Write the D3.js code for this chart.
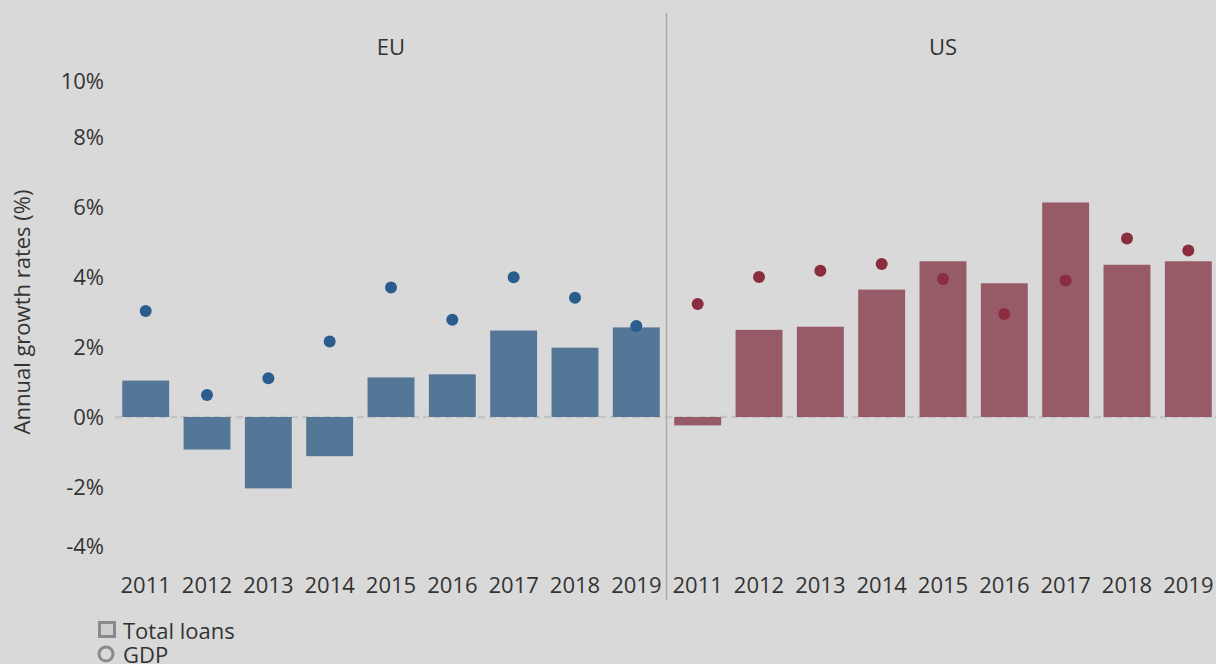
<!DOCTYPE html>
<html lang="en">
<head>
    <title>Loans vs GDP growth</title>
    <style>
        body {
            margin: 0;
            background-color: #d9d9d9;
            font-family: "Open Sans", sans-serif;
        }
        svg {
            display: block;
        }
        svg text {
            fill: #333;
        }
    </style>
    <script src="https://d3js.org/d3.v7.min.js"></script>
</head>
<body>
<svg></svg>
<script>
    const width = 1216;
    const height = 664;

    const regions = ['EU', 'US'];
    const years = ['2011', '2012', '2013', '2014', '2015', '2016', '2017', '2018', '2019'];
    const yTicks = [-4, -2, 0, 2, 4, 6, 8, 10];

    // annual growth rates, %
    const loansEU = [1.04, -0.93, -2.04, -1.12, 1.13, 1.22, 2.47, 1.98, 2.56];
    const gdpEU = [3.03, 0.63, 1.11, 2.16, 3.70, 2.78, 3.99, 3.41, 2.60];
    const loansUS = [-0.24, 2.49, 2.58, 3.64, 4.45, 3.82, 6.13, 4.35, 4.45];
    const gdpUS = [3.23, 4.00, 4.18, 4.37, 3.94, 2.94, 3.90, 5.10, 4.76];

    const loans = { EU: loansEU, US: loansUS };
    const gdp = { EU: gdpEU, US: gdpUS };

    const barColor = { EU: '#557797', US: '#965b66' };
    const dotColor = { EU: '#2b5c8e', US: '#8a2d3f' };

    const svg = d3.select('svg').attr('width', width).attr('height', height);

    const paneTop = 67, paneBottom = 557;
    const y = d3.scaleLinear().domain([-4, 10]).range([paneBottom, paneTop]);

    const panel = d3.scaleBand().domain(regions).range([115, 1219]);

    // zero line
    svg.append('line')
        .attr('x1', 115).attr('x2', width)
        .attr('y1', y(0)).attr('y2', y(0))
        .attr('stroke', '#c4c4c4')
        .attr('stroke-width', 2.5)
        .attr('stroke-dasharray', '7,4');

    // separator between panels
    svg.append('line')
        .attr('x1', panel('US') - 0.5).attr('x2', panel('US') - 0.5)
        .attr('y1', 13).attr('y2', 600)
        .attr('stroke', '#ababab')
        .attr('stroke-width', 1.5);

    // y tick labels (Tableau pulls the edge labels inside the pane)
    svg.append('g')
        .selectAll('text')
        .data(yTicks)
        .enter().append('text')
        .attr('x', 104)
        .attr('y', d => Math.max(81, Math.min(546, y(d))))
        .attr('dy', '0.35em')
        .attr('text-anchor', 'end')
        .style('font-size', '22px')
        .text(d => d + '%');

    svg.append('text')
        .attr('transform', 'translate(30,312) rotate(-90)')
        .attr('text-anchor', 'middle')
        .style('font-size', '22px')
        .text('Annual growth rates (%)');

    regions.forEach(r => {
        const x0 = panel(r);
        const x = d3.scaleBand()
            .domain(years)
            .range([x0, x0 + panel.bandwidth()])
            .paddingInner(0.235)
            .paddingOuter(0.118);

        svg.append('text')
            .attr('x', x0 + panel.bandwidth() / 2)
            .attr('y', 47)
            .attr('dy', '0.35em')
            .attr('text-anchor', 'middle')
            .style('font-size', '22px')
            .text(r);

        const g = svg.append('g');

        g.selectAll('.bar')
            .data(loans[r])
            .enter().append('rect')
            .attr('class', 'bar')
            .attr('x', (d, i) => x(years[i]))
            .attr('width', x.bandwidth())
            .attr('y', d => y(Math.max(0, d)))
            .attr('height', d => Math.abs(y(d) - y(0)))
            .attr('fill', barColor[r]);

        g.selectAll('.dot')
            .data(gdp[r])
            .enter().append('circle')
            .attr('class', 'dot')
            .attr('cx', (d, i) => x(years[i]) + x.bandwidth() / 2)
            .attr('cy', d => y(d))
            .attr('r', 6)
            .attr('fill', dotColor[r]);

        g.selectAll('.year')
            .data(years)
            .enter().append('text')
            .attr('class', 'year')
            .attr('x', d => x(d) + x.bandwidth() / 2)
            .attr('y', 585)
            .attr('dy', '0.35em')
            .attr('text-anchor', 'middle')
            .style('font-size', '22px')
            .text(d => d);
    });

    // legend
    const legend = svg.append('g');
    legend.append('rect')
        .attr('x', 99.5).attr('y', 622.5)
        .attr('width', 15).attr('height', 14)
        .attr('fill', '#cfcfcf')
        .attr('stroke', '#8a8a8a')
        .attr('stroke-width', 3);
    legend.append('text')
        .attr('x', 123).attr('y', 631)
        .attr('dy', '0.35em')
        .style('font-size', '22px')
        .text('Total loans');
    legend.append('circle')
        .attr('cx', 106).attr('cy', 654)
        .attr('r', 7)
        .attr('fill', 'none')
        .attr('stroke', '#8a8a8a')
        .attr('stroke-width', 3);
    legend.append('text')
        .attr('x', 123).attr('y', 655)
        .attr('dy', '0.35em')
        .style('font-size', '22px')
        .text('GDP');
</script>
</body>
</html>
